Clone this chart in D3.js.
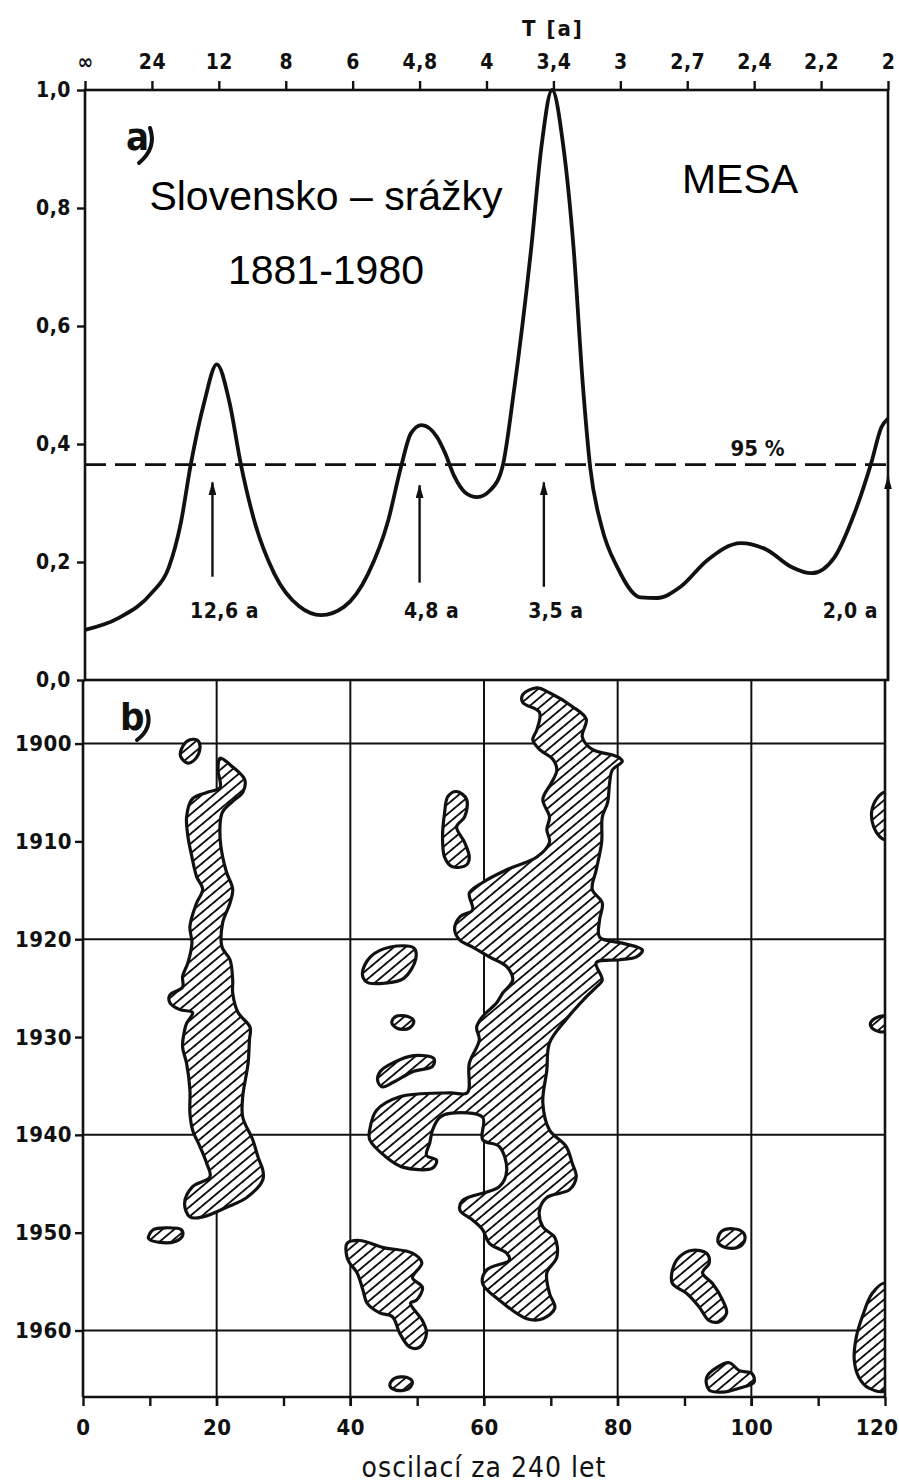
<!DOCTYPE html>
<html><head><meta charset="utf-8">
<script src="https://cdn.jsdelivr.net/npm/d3@7"></script>
<style>body{margin:0;background:#fff}</style>
</head><body>
<svg id="c" width="899" height="1484"></svg>
<script>
// ---------- DATA ----------
// Panel a) MESA spectrum: frequency (oscillations per 240 years) vs relative power
const mesaFreq  = [0, 5, 10, 12.5, 14.3, 15.8, 17.8, 19.7, 21.6, 23.3, 25.3, 28.3, 32, 35.3, 38.7, 42.3, 45.3, 47.2, 48.7, 50.3, 52.6, 53.8, 55.2, 56.8, 58.6, 60.6, 62.4, 64.1, 66.7, 68.2, 69.8, 71.5, 73, 74.4, 75.5, 77.2, 79.6, 83, 85.5, 89, 93, 98, 102, 105.5, 108.6, 112, 115, 117.5, 119, 120];
const mesaPower = [0.085, 0.105, 0.148, 0.19, 0.265, 0.365, 0.47, 0.535, 0.47, 0.365, 0.27, 0.18, 0.125, 0.11, 0.124, 0.18, 0.27, 0.36, 0.418, 0.432, 0.412, 0.385, 0.345, 0.318, 0.31, 0.322, 0.362, 0.49, 0.734, 0.903, 1.0, 0.903, 0.734, 0.5, 0.36, 0.26, 0.19, 0.14, 0.139, 0.158, 0.203, 0.232, 0.22, 0.192, 0.181, 0.208, 0.283, 0.368, 0.428, 0.443];
const significance95 = 0.365;
const peakPeriods = [12.6, 4.8, 3.5, 2.0];
const peakLabels  = ["12,6 a", "4,8 a", "3,5 a", "2,0 a"];
const arrowTip    = [0.335, 0.33, 0.335, 0.345];
const arrowTail   = [0.175, 0.165, 0.158, 0.0];

// Axis ticks
const powerTicks = [0, 0.2, 0.4, 0.6, 0.8, 1.0];
const freqTicks = [0, 10, 20, 30, 40, 50, 60, 70, 80, 90, 100, 110, 120];
const periodLabels = ["\u221e", "24", "12", "8", "6", "4,8", "4", "3,4", "3", "2,7", "2,4", "2,2", "2"];
const yearTicks = [1900, 1910, 1920, 1930, 1940, 1950, 1960];
const gridFreq = [20, 40, 60, 80, 100];
const gridYears = [1900, 1920, 1940, 1960];

// Panel b) significant regions of the running spectrum [frequency, year]
const blobSmall1901 = [[14.6,1901.3],[15.0,1900.2],[16.0,1899.6],[17.2,1899.7],[17.5,1900.5],[16.9,1901.5],[15.7,1902.0]];
const blobLeftBand = [[20.5,1901.5],[22.4,1902.4],[24.2,1903.7],[23.9,1905.0],[22.4,1905.9],[20.8,1907.1],[20.5,1909.5],[20.9,1911.6],[21.5,1913.2],[22.4,1914.9],[22.0,1916.3],[20.9,1918.3],[20.8,1920.8],[22.0,1922.1],[22.4,1924.2],[22.4,1925.5],[23.2,1927.5],[25.0,1929.0],[24.9,1930.3],[24.7,1932.7],[23.9,1936.1],[23.9,1938.2],[25.4,1940.5],[26.2,1942.3],[26.9,1943.6],[26.9,1944.6],[24.5,1946.4],[21.5,1947.4],[17.9,1948.4],[16.0,1948.4],[15.2,1947.0],[16.4,1945.3],[19.0,1944.3],[18.5,1942.9],[17.5,1941.2],[16.4,1939.5],[16.0,1937.8],[16.0,1935.4],[15.5,1932.7],[14.9,1931.0],[15.2,1929.3],[15.5,1928.6],[16.4,1927.5],[14.5,1927.2],[13.0,1926.5],[13.0,1925.7],[14.9,1924.9],[14.9,1923.8],[15.7,1922.4],[16.3,1920.4],[16.0,1918.7],[17.0,1916.3],[17.9,1914.9],[17.0,1913.6],[16.3,1911.6],[15.7,1909.5],[15.5,1907.5],[16.3,1905.7],[18.5,1905.0],[20.5,1904.5],[20.2,1902.7]];
const blobSmall1950 = [[9.8,1950.6],[10.5,1949.7],[12.5,1949.5],[14.7,1949.7],[14.9,1950.3],[13.8,1950.9],[11.5,1951.0]];
const blob1922 = [[41.8,1923.5],[43.0,1921.8],[46.0,1920.8],[49.5,1920.9],[49.8,1922.0],[48.0,1924.0],[45.0,1924.5],[42.5,1924.4]];
const blob1928 = [[46.2,1928.5],[46.8,1927.9],[48.6,1927.9],[49.5,1928.4],[48.8,1929.1],[47.0,1929.1]];
const blob1933 = [[44.1,1934.5],[44.5,1933.5],[46.5,1932.6],[49.5,1931.9],[52.5,1932.2],[52.3,1933.0],[49.5,1933.5],[46.5,1934.6],[44.8,1935.1]];
const blobCentral = [[65.8,1895.0],[67.9,1894.3],[69.8,1894.8],[73.2,1896.2],[75.3,1897.5],[74.7,1899.3],[76.2,1900.6],[79.8,1901.3],[80.7,1901.8],[79.2,1902.7],[78.8,1904.0],[78.5,1906.0],[77.7,1907.5],[77.6,1910.1],[76.8,1912.9],[76.2,1914.9],[77.7,1916.3],[77.3,1918.0],[77.3,1919.8],[80.7,1920.4],[83.7,1921.1],[82.8,1921.8],[80.3,1922.1],[76.8,1922.4],[77.7,1924.2],[76.8,1924.9],[75.3,1925.9],[72.3,1928.2],[69.8,1930.6],[69.4,1933.4],[68.8,1936.7],[69.8,1939.5],[72.3,1941.2],[73.2,1942.9],[73.8,1944.3],[72.8,1945.6],[69.4,1946.4],[68.3,1947.7],[68.8,1949.4],[70.6,1950.5],[70.9,1952.5],[69.4,1954.1],[69.8,1956.2],[70.6,1957.7],[68.8,1958.8],[66.4,1958.8],[62.3,1956.9],[59.8,1955.2],[60.4,1953.8],[63.8,1952.8],[63.4,1952.1],[60.8,1951.1],[59.8,1949.7],[58.3,1948.7],[56.4,1947.7],[56.8,1946.7],[62.3,1945.3],[63.4,1943.6],[62.3,1941.2],[59.8,1940.5],[59.8,1938.2],[54.9,1937.8],[53.4,1938.2],[52.3,1939.5],[51.9,1940.8],[51.4,1942.1],[52.9,1942.6],[52.3,1943.4],[47.8,1943.3],[45.4,1942.3],[42.9,1940.5],[42.9,1939.5],[43.9,1937.5],[47.4,1936.1],[54.9,1935.7],[57.5,1935.7],[57.8,1932.7],[59.3,1930.3],[58.9,1929.0],[59.8,1927.9],[61.9,1926.5],[62.8,1925.5],[64.3,1924.2],[63.4,1922.8],[60.8,1921.8],[58.3,1920.8],[56.4,1920.1],[55.6,1919.0],[56.4,1917.7],[58.3,1917.0],[57.8,1915.3],[59.8,1914.2],[63.4,1912.9],[67.9,1911.6],[69.8,1910.1],[69.4,1908.8],[69.8,1907.5],[68.8,1905.7],[70.1,1904.0],[70.9,1902.7],[70.3,1901.6],[68.3,1900.6],[67.3,1899.6],[67.9,1898.6],[68.3,1896.8],[65.8,1895.8]];
const blob1908 = [[55.9,1904.9],[57.4,1905.7],[57.1,1907.5],[55.9,1908.5],[57.1,1910.1],[57.8,1911.6],[57.4,1912.4],[55.3,1912.6],[54.1,1911.6],[53.8,1909.5],[54.1,1907.1],[54.6,1905.4]];
const blobRight1907 = [[120,1905.0],[118.8,1905.6],[118.0,1907.0],[118.3,1908.5],[119.2,1909.5],[120,1909.8]];
const blobRight1929 = [[120,1927.9],[118.5,1928.1],[117.8,1928.7],[118.5,1929.3],[120,1929.4]];
const blob1955 = [[39.5,1951.1],[41.4,1950.8],[44.8,1951.5],[49.3,1952.1],[50.7,1953.1],[49.3,1954.6],[50.8,1955.6],[49.9,1956.9],[49.0,1957.2],[50.8,1959.0],[51.4,1960.3],[50.4,1961.7],[48.9,1961.7],[47.4,1960.3],[46.3,1958.6],[44.4,1958.2],[42.5,1957.2],[41.9,1955.9],[41.0,1954.1],[39.9,1953.1],[39.5,1952.5]];
const blob1965 = [[45.9,1965.6],[46.6,1964.9],[48.5,1964.8],[49.3,1965.3],[48.6,1966.0],[46.8,1966.1]];
const blob1950b = [[95.0,1950.9],[95.5,1949.9],[97.2,1949.6],[98.8,1950.0],[99.0,1950.8],[98.0,1951.5],[96.0,1951.5]];
const blob1955b = [[88.2,1953.8],[89.2,1952.5],[91.2,1951.8],[93.3,1952.1],[93.7,1953.1],[92.7,1954.1],[94.2,1955.2],[95.7,1956.9],[96.3,1958.2],[95.2,1959.1],[93.7,1959.0],[92.2,1957.6],[90.3,1956.2],[88.2,1955.2]];
const blob1964 = [[93.3,1964.8],[94.8,1963.8],[96.7,1963.3],[98.2,1964.1],[100.1,1964.4],[100.4,1965.3],[98.2,1965.9],[95.7,1966.3],[93.7,1966.1]];
const blobRight1961 = [[120,1955.2],[118.1,1956.2],[116.6,1958.6],[115.7,1960.7],[115.4,1963.0],[116.1,1964.8],[117.6,1965.9],[120,1966.1]];

const regions = [blobSmall1901, blobLeftBand, blobSmall1950, blob1922, blob1928, blob1933, blobCentral, blob1908, blobRight1907, blobRight1929, blob1955, blob1965, blob1950b, blob1955b, blob1964, blobRight1961];

// ---------- DRAW ----------
const svg = d3.select('#c');
const tickFont = "'DejaVu Sans Condensed', 'DejaVu Sans', sans-serif";
const titleFont = "'Liberation Sans', Arial, sans-serif";

const xTop = d3.scaleLinear().domain([0, 120]).range([85, 888]);
const yTop = d3.scaleLinear().domain([0, 1]).range([680, 90]);
const xBot = d3.scaleLinear().domain([0, 120]).range([83, 885]);
const yBot = d3.scaleLinear().domain([1893.5, 1966.8]).range([680, 1397]);

const defs = svg.append('defs');
const pat = defs.append('pattern').attr('id', 'hatch').attr('patternUnits', 'userSpaceOnUse')
  .attr('width', 7.5).attr('height', 7.5).attr('patternTransform', 'rotate(50)');
pat.append('rect').attr('width', 7.5).attr('height', 7.5).attr('fill', '#fff');
pat.append('line').attr('x1', 3.75).attr('y1', 0).attr('x2', 3.75).attr('y2', 7.5).attr('stroke', '#111').attr('stroke-width', 1.9);
defs.append('clipPath').attr('id', 'clipB').append('rect')
  .attr('x', xBot(0)).attr('y', yBot(1893.5)).attr('width', xBot(120) - xBot(0)).attr('height', yBot(1966.8) - yBot(1893.5));
defs.append('marker').attr('id', 'arr').attr('markerUnits', 'userSpaceOnUse')
  .attr('viewBox', '0 0 14 8').attr('refX', 13).attr('refY', 4).attr('markerWidth', 14).attr('markerHeight', 8)
  .attr('orient', 'auto').append('path').attr('d', 'M0,0 L14,4 L0,8 Z').attr('fill', '#111');

const ink = '#111';

// ----- bottom panel grid + regions -----
const gB = svg.append('g');
gB.selectAll('.gx').data(gridFreq).join('line')
  .attr('x1', d => xBot(d)).attr('x2', d => xBot(d)).attr('y1', yBot(1893.5)).attr('y2', yBot(1966.8) + 9)
  .attr('stroke', ink).attr('stroke-width', 2);
gB.selectAll('.gy').data(gridYears).join('line')
  .attr('x1', xBot(0)).attr('x2', xBot(120)).attr('y1', d => yBot(d)).attr('y2', d => yBot(d))
  .attr('stroke', ink).attr('stroke-width', 2);

const blobLine = d3.line().x(d => xBot(d[0])).y(d => yBot(d[1])).curve(d3.curveCatmullRomClosed.alpha(0.5));
gB.append('g').attr('clip-path', 'url(#clipB)').selectAll('path').data(regions).join('path')
  .attr('d', blobLine).attr('fill', 'url(#hatch)').attr('stroke', ink).attr('stroke-width', 3.2)
  .attr('stroke-linejoin', 'round');

// ----- frames -----
const frame = svg.append('g').attr('stroke', ink).attr('stroke-width', 2.6).attr('fill', 'none');
frame.append('rect').attr('x', xTop(0)).attr('y', yTop(1)).attr('width', xTop(120) - xTop(0)).attr('height', yTop(0) - yTop(1));
frame.append('line').attr('x1', xBot(0)).attr('x2', xBot(0)).attr('y1', yBot(1893.5)).attr('y2', yBot(1966.8));
frame.append('line').attr('x1', xBot(120)).attr('x2', xBot(120)).attr('y1', yBot(1893.5)).attr('y2', yBot(1966.8));
frame.append('line').attr('x1', xBot(0)).attr('x2', xBot(120)).attr('y1', yBot(1966.8)).attr('y2', yBot(1966.8));

// ----- axes -----
function styleAxis(g, size) {
  g.select('.domain').remove();
  g.selectAll('.tick line').attr('stroke', ink).attr('stroke-width', 2.4);
  g.selectAll('.tick text').attr('fill', ink).style('font-family', tickFont).style('font-size', size + 'px')
    .style('font-weight', 'bold').style('letter-spacing', '0.5px');
}
svg.append('g').attr('transform', `translate(${xTop(0)},0)`)
  .call(d3.axisLeft(yTop).tickValues(powerTicks).tickSize(8).tickPadding(6)
    .tickFormat(d => d3.format('.1f')(d).replace('.', ',')))
  .call(g => styleAxis(g, 21));
svg.append('g').attr('transform', `translate(0,${yTop(1)})`)
  .call(d3.axisTop(xTop).tickValues(freqTicks).tickSize(9).tickPadding(12)
    .tickFormat((d, i) => periodLabels[i]))
  .call(g => styleAxis(g, 21));
svg.append('g').attr('transform', `translate(${xBot(0)},0)`)
  .call(d3.axisLeft(yBot).tickValues(yearTicks).tickSize(8).tickPadding(3).tickFormat(d3.format('d')))
  .call(g => styleAxis(g, 22));
svg.append('g').attr('transform', `translate(0,${yBot(1966.8)})`)
  .call(d3.axisBottom(xBot).tickValues(freqTicks).tickSize(9).tickPadding(13)
    .tickFormat(d => d % 20 === 0 ? d : ''))
  .call(g => styleAxis(g, 22))
  .call(g => g.selectAll('.tick text').filter(d => d === 120).attr('text-anchor', 'end').attr('x', 13));

// axis titles
svg.append('text').attr('x', 553).attr('y', 36).attr('text-anchor', 'middle')
  .style('font-family', tickFont).style('font-size', '22px').style('font-weight', 'bold').style('letter-spacing', '2px').attr('fill', ink).text('T [a]');
svg.append('text').attr('x', (xBot(0) + xBot(120)) / 2).attr('y', 1477).attr('text-anchor', 'middle')
  .style('font-family', tickFont).style('font-size', '28px').style('letter-spacing', '1px').attr('fill', ink).text('oscilací za 240 let');

// ----- spectrum curve -----
const mesa = mesaFreq.map((f, i) => [f, mesaPower[i]]);
svg.append('path').datum(mesa)
  .attr('d', d3.line().x(d => xTop(d[0])).y(d => yTop(d[1])).curve(d3.curveMonotoneX))
  .attr('fill', 'none').attr('stroke', ink).attr('stroke-width', 3.8).attr('stroke-linejoin', 'round');

// 95 % level
svg.append('line').attr('x1', xTop(0)).attr('x2', xTop(120)).attr('y1', yTop(significance95)).attr('y2', yTop(significance95))
  .attr('stroke', ink).attr('stroke-width', 2.8).attr('stroke-dasharray', '21,9');
svg.append('text').attr('x', xTop(100.5)).attr('y', yTop(significance95) - 9).attr('text-anchor', 'middle')
  .style('font-family', tickFont).style('font-size', '22px').style('font-weight', 'bold').attr('fill', ink).text('95 %');

// arrows to peaks
const arrows = peakPeriods.map((p, i) => ({ f: 240 / p, tip: arrowTip[i], tail: arrowTail[i], label: peakLabels[i] }));
svg.selectAll('.arrow').data(arrows).join('line')
  .attr('x1', d => xTop(d.f)).attr('x2', d => xTop(d.f))
  .attr('y1', d => yTop(d.tail)).attr('y2', d => yTop(d.tip))
  .attr('stroke', ink).attr('stroke-width', 2.4).attr('marker-end', 'url(#arr)');
svg.selectAll('.plab').data(arrows).join('text')
  .attr('x', (d, i) => i < arrows.length - 1 ? xTop(d.f) + 12 : xTop(d.f) - 10)
  .attr('y', 618)
  .attr('text-anchor', (d, i) => i < arrows.length - 1 ? 'middle' : 'end')
  .style('font-family', tickFont).style('font-size', '21px').style('font-weight', 'bold').style('letter-spacing', '0.5px').attr('fill', ink)
  .text(d => d.label);

// ----- panel labels & titles -----
svg.append('text').attr('x', 126).attr('y', 150).style('font-family', tickFont).style('font-size', '38px')
  .style('font-weight', 'bold').attr('fill', ink).text('a');
svg.append('path').attr('d', 'M150,128 Q157,148 139,163').attr('fill', 'none').attr('stroke', ink).attr('stroke-width', 4).attr('stroke-linecap', 'round');
svg.append('text').attr('x', 120).attr('y', 730).style('font-family', tickFont).style('font-size', '38px')
  .style('font-weight', 'bold').attr('fill', ink).text('b');
svg.append('path').attr('d', 'M147,711 Q153,728 137,740').attr('fill', 'none').attr('stroke', ink).attr('stroke-width', 4).attr('stroke-linecap', 'round');

svg.append('text').attr('x', 326).attr('y', 210).attr('text-anchor', 'middle')
  .style('font-family', titleFont).style('font-size', '41px').attr('fill', '#000').text('Slovensko – srážky');
svg.append('text').attr('x', 326).attr('y', 284).attr('text-anchor', 'middle')
  .style('font-family', titleFont).style('font-size', '41px').attr('fill', '#000').text('1881-1980');
svg.append('text').attr('x', 740).attr('y', 193).attr('text-anchor', 'middle')
  .style('font-family', titleFont).style('font-size', '41px').attr('fill', '#000').text('MESA');
</script>
</body></html>
